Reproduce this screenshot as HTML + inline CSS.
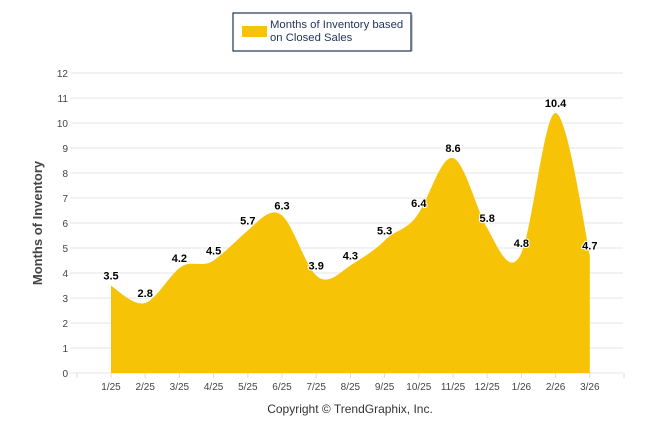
<!DOCTYPE html>
<html><head><meta charset="utf-8"><style>
body{margin:0;background:#fff;width:646px;height:434px;overflow:hidden;font-family:"Liberation Sans",sans-serif}
</style></head><body>
<svg id="c" width="646" height="434" xmlns="http://www.w3.org/2000/svg" font-family="Liberation Sans, sans-serif">
<g>
<rect x="235" y="15" width="178" height="36" fill="#999" opacity="0.5"/>
<rect x="233" y="13" width="178" height="38" fill="#fff" stroke="#1f3358" stroke-width="1.2"/>
<rect x="242" y="26" width="25" height="11" fill="#f7c307"/>
<text x="270" y="28" font-size="11.3" fill="#1f3358">Months of Inventory based</text>
<text x="270" y="41" font-size="11.3" fill="#1f3358">on Closed Sales</text>
</g>
<g id="grid"></g>
<path id="area" fill="#f7c307"/>
<g id="labels"></g>
<text x="42" y="223" font-size="13" font-weight="bold" fill="#444" text-anchor="middle" transform="rotate(-90 42 223)">Months of Inventory</text>
<text x="350" y="413" font-size="12" fill="#333" text-anchor="middle">Copyright © TrendGraphix, Inc.</text>
</svg>
<script>
const categories=["1/25","2/25","3/25","4/25","5/25","6/25","7/25","8/25","9/25","10/25","11/25","12/25","1/26","2/26","3/26"];
const values=[3.5,2.8,4.2,4.5,5.7,6.3,3.9,4.3,5.3,6.4,8.6,5.8,4.8,10.4,4.7];
const yTicks=[0,1,2,3,4,5,6,7,8,9,10,11,12];
const NS="http://www.w3.org/2000/svg";
const X=i=>111+i*34.2, Y=v=>373-v*25;
const grid=document.getElementById('grid'),labels=document.getElementById('labels');
function mk(t,a,p,txt){const e=document.createElementNS(NS,t);for(const k in a)e.setAttribute(k,a[k]);if(txt!==undefined)e.textContent=txt;p.appendChild(e);return e;}
yTicks.forEach(v=>{
 const l=mk('line',{x1:70,x2:623,y1:Y(v),y2:Y(v),stroke:'#e6e6e6'},grid);
 
 
 const t=mk('text',{x:68,y:Y(v)+4,'font-size':10,fill:'#444','text-anchor':'end'},grid,v);
 
 
});
for(let i=-1;i<=categories.length;i++){mk('line',{x1:X(i),x2:X(i),y1:373,y2:378,stroke:'#ddd'},grid);}
categories.forEach((c,i)=>{
 const t=mk('text',{x:X(i),y:390,'font-size':10,fill:'#444','text-anchor':'middle'},grid,c);
 
 
});
const pts=values.map((v,i)=>[X(i),Y(v)]);
let d=`M${pts[0][0]},373 L${pts[0][0]},${pts[0][1]}`;
const s=1.5;
for(let i=0;i<pts.length-1;i++){
 const p0=pts[i-1]||pts[i],p1=pts[i],p2=pts[i+1],p3=pts[i+2]||p2;
 const c1=[p1[0]+(p2[0]-p0[0])/(2*s*2),p1[1]+(p2[1]-p0[1])/(2*s*2)*1.3];
 const c2=[p2[0]-(p3[0]-p1[0])/(2*s*2),p2[1]-(p3[1]-p1[1])/(2*s*2)*1.3];
 d+=` C${c1[0]},${c1[1]} ${c2[0]},${c2[1]} ${p2[0]},${p2[1]}`;
}
d+=` L${pts[pts.length-1][0]},373 Z`;
document.getElementById('area').setAttribute('d',d);
values.forEach((v,i)=>{
 const t=mk('text',{x:X(i),y:Y(v)-6,'font-size':11,'font-weight':'bold',fill:'#000','text-anchor':'middle',stroke:'#fff','stroke-width':2,'paint-order':'stroke'},labels,v.toFixed(1));
 
 
});
</script>
</body></html>
